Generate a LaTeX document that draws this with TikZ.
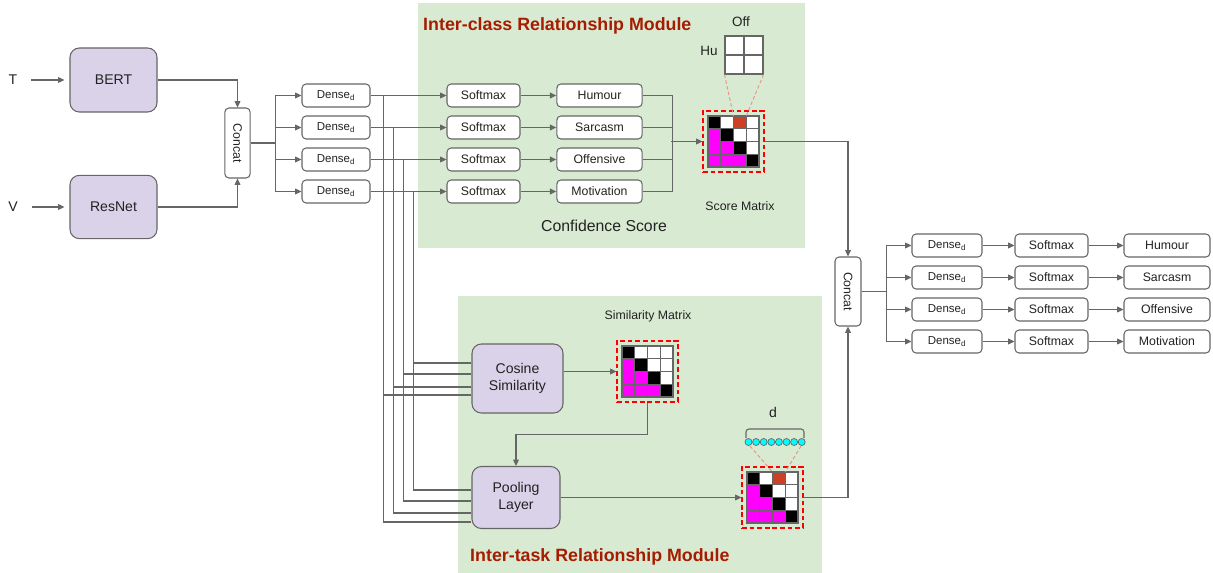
\documentclass[tikz,border=0pt]{standalone}
\usepackage{fontspec}
\setmainfont{Liberation Sans}
\usepackage{graphicx}
\usetikzlibrary{arrows.meta}
\definecolor{linegray}{HTML}{666666}
\definecolor{panelgreen}{HTML}{D9EAD3}
\definecolor{netlilac}{HTML}{D9D2E9}
\definecolor{titlered}{HTML}{A61C00}
\definecolor{cellred}{HTML}{CC4125}
\definecolor{cellpink}{HTML}{FF00FF}
\definecolor{linkpink}{HTML}{E69585}
\definecolor{dotcyan}{HTML}{00FFFF}
\definecolor{textgray}{HTML}{222222}
\tikzset{
  box/.style = {draw=linegray, line width=0.9pt, fill=white, rounded corners=3.5pt,
                inner sep=0pt, minimum height=0.69cm, text=textgray,
                font=\fontsize{10.5}{12}\selectfont},
  dense/.style = {box, minimum width=2.04cm, font=\fontsize{9.8}{11}\selectfont},
  soft/.style = {box, minimum width=2.19cm},
  cls/.style = {box, minimum width=2.56cm},
  net/.style = {draw=linegray, line width=0.9pt, fill=netlilac, rounded corners=8pt,
                inner sep=0pt, align=center, text=textgray,
                font=\fontsize{12}{15}\selectfont},
  wire/.style = {draw=linegray, line width=0.9pt},
  arr/.style = {wire, -{Triangle[length=5.5pt,width=5pt]}},
  matbox/.style = {draw=red, line width=0.9pt, dash pattern=on 4pt off 2.5pt,
                   minimum size=1.83cm, inner sep=0pt},
  lbl/.style = {text=textgray, inner sep=1pt, font=\fontsize{12}{14}\selectfont},
  small/.style = {text=textgray, inner sep=1pt, font=\fontsize{10.5}{12}\selectfont},
  headline/.style = {text=titlered, inner sep=0pt, font=\fontsize{15.2}{18}\selectfont\bfseries}
}
% 4x4 score grid inside a matrix box, #2=1 marks the red cell
\newcommand{\cellgrid}[2]{%
  \begin{scope}[shift={(#1.center)}]
    \foreach \row in {0,...,3}{
      \foreach \col in {0,...,3}{
        \ifnum\col=\row \def\cellcol{black}\else
          \ifnum\col<\row \def\cellcol{cellpink}\else \def\cellcol{white}\fi\fi
        \filldraw[fill=\cellcol, draw=linegray, line width=1pt]
          (-25.5+12.75*\col,-25.5+12.75*\row) rectangle ++(12.75,12.75);
      }}
    \ifnum#2=1 \filldraw[fill=cellred, draw=linegray, line width=1pt] (0,-25.5) rectangle ++(12.75,12.75);\fi
    \coordinate (#1-redl) at (0,-25.5);
    \coordinate (#1-redr) at (12.75,-25.5);
  \end{scope}}

\begin{document}
\begin{tikzpicture}[x=0.03cm, y=-0.03cm]
	\useasboundingbox (0,0) rectangle (1213,573);

	% Panels
	\fill[panelgreen] (418,3) rectangle (805,248);
	\fill[panelgreen] (458,296) rectangle (822,573);
	\node[headline, anchor=west] (classtitle) at (423,26) {Inter-class Relationship Module};
	\node[headline, anchor=west] (tasktitle) at (470,557) {Inter-task Relationship Module};

	% Encoders
	\node[lbl] (tin) at (13,80) {T};
	\node[lbl] (vin) at (13,207) {V};
	\node[net, minimum width=2.61cm, minimum height=1.92cm] (bert) at (113.5,80) {BERT};
	\node[net, minimum width=2.61cm, minimum height=1.9cm] (resnet) at (113.5,207) {ResNet};
	\draw[arr, shorten <=0.38cm, shorten >=0.15cm] (tin.east) -- (bert.west);
	\draw[arr, shorten <=0.38cm, shorten >=0.15cm] (vin.east) -- (resnet.west);

	\node[box, minimum width=0.76cm, minimum height=2.1cm] (cat) at (237.5,143) {\rotatebox{-90}{Concat}};
	\draw[arr] (bert.east) -| (cat.north);
	\draw[arr] (resnet.east) -| (cat.south);

	% Dense layers
	\node[dense] (dl1) at (336,95.5) {Dense\textsubscript{d}};
	\node[dense] (dl2) at (336,127.5) {Dense\textsubscript{d}};
	\node[dense] (dl3) at (336,159.5) {Dense\textsubscript{d}};
	\node[dense] (dl4) at (336,191.5) {Dense\textsubscript{d}};
	\draw[wire] (cat.east) -- ++(25,0);
	\draw[arr] (cat.east) ++(25,0) |- (dl1.west);
	\draw[arr] (cat.east) ++(25,0) |- (dl2.west);
	\draw[arr] (cat.east) ++(25,0) |- (dl3.west);
	\draw[arr] (cat.east) ++(25,0) |- (dl4.west);

	% Inter-class module
	\node[soft] (su1) at (483.5,95.5) {Softmax};
	\node[soft] (su2) at (483.5,127.5) {Softmax};
	\node[soft] (su3) at (483.5,159.5) {Softmax};
	\node[soft] (su4) at (483.5,191.5) {Softmax};
	\node[cls] (cu1) at (599.5,95.5) {Humour};
	\node[cls] (cu2) at (599.5,127.5) {Sarcasm};
	\node[cls] (cu3) at (599.5,159.5) {Offensive};
	\node[cls] (cu4) at (599.5,191.5) {Motivation};
	\draw[arr] (dl1) -- (su1);
	\draw[arr] (dl2) -- (su2);
	\draw[arr] (dl3) -- (su3);
	\draw[arr] (dl4) -- (su4);
	\draw[arr] (su1) -- (cu1);
	\draw[arr] (su2) -- (cu2);
	\draw[arr] (su3) -- (cu3);
	\draw[arr] (su4) -- (cu4);
	\node[small] (conf) at (604,226) {\fontsize{13.5}{16}\selectfont Confidence Score};

	\node[matbox] (score) at (733.5,141.5) {};
	\cellgrid{score}{1}
	\node[small] (scorelab) at (740,206) {Score Matrix};
	\draw[wire] (cu1.east) -- ++(30,0) |- (cu4.east);
	\draw[wire] (cu2.east) -- ++(30,0);
	\draw[wire] (cu3.east) -- ++(30,0);
	\draw[arr] (score.west) ++(-31,0) -- (score.west);

	% Off / Hu pair
	\node[draw=linegray, line width=0.9pt, fill=white, minimum size=1.14cm, inner sep=0pt] (pair) at (744,55) {};
	\draw[linegray, line width=0.9pt] (pair.north) -- (pair.south) (pair.west) -- (pair.east);
	\node[small] (offlab) at (741,22) {\fontsize{11.5}{13}\selectfont Off};
	\node[small] (hulab) at (709,51) {\fontsize{11.5}{13}\selectfont Hu};
	\draw[linkpink, line width=0.8pt, dash pattern=on 3pt off 2pt] (pair.south west) -- (score-redl);
	\draw[linkpink, line width=0.8pt, dash pattern=on 3pt off 2pt] (pair.south east) -- (score-redr);

	% Inter-task module
	\node[net, minimum width=2.73cm, minimum height=2.07cm] (cos) at (517.5,378.5) {Cosine\\Similarity};
	\node[net, minimum width=2.64cm, minimum height=1.86cm] (pool) at (516,497.5) {Pooling\\Layer};
	\node[small] (simlab) at (648,316) {Similarity Matrix};
	\node[matbox] (sim) at (647.5,371.5) {};
	\cellgrid{sim}{0}
	\node[matbox] (final) at (772.5,497.5) {};
	\cellgrid{final}{1}
	\draw[arr] (cos.east |- sim.west) -- (sim.west);
	\draw[arr] (sim.south) -- ++(0,32) -| (pool.north);
	\draw[arr] (pool.east) -- (final.west);

	% Dense outputs to cosine and pooling
	\path (cos.west) ++(0,16.5) coordinate (cin1) ++(0,-8) coordinate (cin2) ++(0,-13) coordinate (cin3) ++(0,-11) coordinate (cin4);
	\path (pool.west) ++(0,24.5) coordinate (pin1) ++(0,-9) coordinate (pin2) ++(0,-12) coordinate (pin3) ++(0,-11) coordinate (pin4);
	\draw[wire] (dl1.east) -- ++(13,0) |- (cin1);
	\draw[wire] (dl2.east) -- ++(23,0) |- (cin2);
	\draw[wire] (dl3.east) -- ++(33,0) |- (cin3);
	\draw[wire] (dl4.east) -- ++(43,0) |- (cin4);
	\draw[wire] (dl1.east) ++(13,0) |- (pin1);
	\draw[wire] (dl2.east) ++(23,0) |- (pin2);
	\draw[wire] (dl3.east) ++(33,0) |- (pin3);
	\draw[wire] (dl4.east) ++(43,0) |- (pin4);

	% d-vector
	\node[lbl] (dlab) at (773,412) {d};
	\draw[linegray, line width=0.9pt, rounded corners=2.5pt] (746,438) -- (746,429) -- (804,429) -- (804,438);
	\foreach \i in {0,...,7}
		\filldraw[fill=dotcyan, draw=linegray, line width=0.6pt] (748.5+7.6*\i,442) circle (0.105cm);
	\coordinate (dotl) at (750,446);
	\coordinate (dotr) at (801,446);
	\draw[linkpink, line width=0.8pt, dash pattern=on 3pt off 2pt] (dotl) -- (final-redl);
	\draw[linkpink, line width=0.8pt, dash pattern=on 3pt off 2pt] (dotr) -- (final-redr);

	% Output head
	\node[box, minimum width=0.78cm, minimum height=2.07cm] (cat2) at (848,291.5) {\rotatebox{-90}{Concat}};
	\draw[arr] (score.east) -| (cat2.north);
	\draw[arr] (final.east) -| (cat2.south);

	\node[dense, minimum width=2.1cm] (dr1) at (947,245.5) {Dense\textsubscript{d}};
	\node[dense, minimum width=2.1cm] (dr2) at (947,277.5) {Dense\textsubscript{d}};
	\node[dense, minimum width=2.1cm] (dr3) at (947,309.5) {Dense\textsubscript{d}};
	\node[dense, minimum width=2.1cm] (dr4) at (947,341.5) {Dense\textsubscript{d}};
	\node[soft] (sr1) at (1051.5,245.5) {Softmax};
	\node[soft] (sr2) at (1051.5,277.5) {Softmax};
	\node[soft] (sr3) at (1051.5,309.5) {Softmax};
	\node[soft] (sr4) at (1051.5,341.5) {Softmax};
	\node[cls, minimum width=2.58cm] (cr1) at (1167,245.5) {Humour};
	\node[cls, minimum width=2.58cm] (cr2) at (1167,277.5) {Sarcasm};
	\node[cls, minimum width=2.58cm] (cr3) at (1167,309.5) {Offensive};
	\node[cls, minimum width=2.58cm] (cr4) at (1167,341.5) {Motivation};
	\draw[wire] (cat2.east) -- ++(25,0);
	\draw[arr] (cat2.east) ++(25,0) |- (dr1.west);
	\draw[arr] (cat2.east) ++(25,0) |- (dr2.west);
	\draw[arr] (cat2.east) ++(25,0) |- (dr3.west);
	\draw[arr] (cat2.east) ++(25,0) |- (dr4.west);
	\draw[arr] (dr1) -- (sr1);
	\draw[arr] (dr2) -- (sr2);
	\draw[arr] (dr3) -- (sr3);
	\draw[arr] (dr4) -- (sr4);
	\draw[arr] (sr1) -- (cr1);
	\draw[arr] (sr2) -- (cr2);
	\draw[arr] (sr3) -- (cr3);
	\draw[arr] (sr4) -- (cr4);
\end{tikzpicture}
\end{document}
